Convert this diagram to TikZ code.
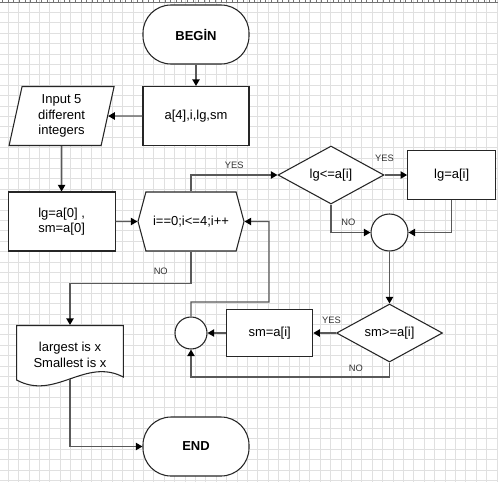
\documentclass[tikz,border=0pt]{standalone}
\usepackage{fontspec}
\setmainfont{Liberation Sans}
\usetikzlibrary{shapes.geometric, shapes.symbols, arrows.meta, calc}

\tikzset{
  gridline/.style={draw=black!12, line width=0.75pt},
  ruler/.style={draw=black!55, line width=0.75pt},
  box/.style={draw=black!85, line width=0.8pt, fill=white, rectangle, inner sep=2pt,
    align=center, font=\fontsize{9.75pt}{11.8pt}\selectfont},
  term/.style={box, rounded corners=21pt, minimum width=79.5pt, minimum height=44.25pt,
    font=\bfseries\fontsize{9.75pt}{11.8pt}\selectfont},
  io/.style={box, trapezium, trapezium left angle=75, trapezium right angle=105,
    trapezium stretches body, minimum width=78.75pt, minimum height=44.25pt},
  hex/.style={box, signal, signal to=east and west, signal pointer angle=150,
    minimum width=79.5pt, minimum height=44.25pt},
  decision/.style={box, diamond, aspect=1.8, inner sep=0pt,
    minimum width=79.5pt, minimum height=43.5pt},
  joint/.style={draw=black!85, line width=0.8pt, fill=white, circle, inner sep=0pt},
  conn/.style={draw=black!65, line width=1.1pt,
    -{Triangle[length=5pt,width=5.5pt,color=black]}},
  lbl/.style={inner sep=0pt, text=black!80, font=\fontsize{7pt}{8pt}\selectfont}
}

\begin{document}
\begin{tikzpicture}[x=0.75pt, y=-0.75pt]
  \useasboundingbox (0,0) rectangle (498,482);
  \fill[white] (0,0) rectangle (498,482);
  % background grid
  \foreach \k in {0,...,47}
    \draw[gridline] ({8.3+10.4*\k},0) -- ({8.3+10.4*\k},482);
  \foreach \k in {0,...,45}
    \draw[gridline] (0,{12.5+10.4*\k}) -- (498,{12.5+10.4*\k});
  % ruler at the top
  \draw[ruler] (0,2.2) -- (498,2.2);
  \foreach \k in {0,...,88}
    \draw[ruler] ({2.7+5.6*\k},0) -- ({2.7+5.6*\k},2.2);

  % output document shape
  \coordinate (docc) at (70,355);
  \draw[draw=black!85, line width=0.8pt, fill=white]
    ($(docc)+(-53.3,-29.5)$) -- ($(docc)+(53.3,-29.5)$) -- ($(docc)+(53.3,22)$)
    .. controls ($(docc)+(15,2)$) and ($(docc)+(-15,46)$) .. ($(docc)+(-53.3,25)$) -- cycle;
  \coordinate (docend) at ($(docc)+(0,23.9)$);

  % nodes
  \node[term] (begin) at (196,34.5) {BEGİN};
  \node[box, minimum width=79.5pt, minimum height=44.25pt] (vars) at (196,116) {a[4],i,lg,sm};
  \node[io] (input) at (61.6,116) {Input 5\\different\\integers};
  \node[box, minimum width=80.25pt, minimum height=44.25pt] (init) at (61.6,221.5) {lg=a[0] ,\\sm=a[0]};
  \node[hex] (loop) at (191,221.5) {i==0;i<=4;i++};
  \node[decision] (cmplg) at (331,175) {lg<=a[i]};
  \node[box, minimum width=66pt, minimum height=36.75pt] (setlg) at (451.7,175) {lg=a[i]};
  \node[joint, minimum size=27.75pt] (join1) at (389.5,232.5) {};
  \node[decision] (cmpsm) at (389.5,333) {sm>=a[i]};
  \node[box, minimum width=64.5pt, minimum height=35.25pt] (setsm) at (269.7,333) {sm=a[i]};
  \node[joint, minimum size=24pt] (join2) at (191,333) {};
  \node[box, draw=none, fill=none, minimum width=80.25pt, minimum height=44.25pt] (out) at (docc) {largest is x\\Smallest is x};
  \node[term] (end) at (196,446.5) {END};

  \coordinate (backlow) at (269,302);
  \coordinate (back) at (269,221.5);

  % connectors
  \draw[conn] (begin) -- (vars);
  \draw[conn] (vars) -- (input);
  \draw[conn] (input) -- (init);
  \draw[conn] (init) -- (loop);
  \draw[conn] (loop.north) |- node[lbl, pos=0.75, above=4.25pt] (yes1) {YES} (cmplg.west);
  \draw[conn] (cmplg) -- node[lbl, pos=0, above=9.25pt] (yes2) {YES} (setlg);
  \draw[conn] (cmplg.south) |- node[lbl, pos=0.72, above=4.5pt] (no1) {NO} (join1.west);
  \draw[conn] (setlg.south) |- (join1.east);
  \draw[conn] (join1) -- (cmpsm);
  \draw[conn] (cmpsm) -- node[lbl, pos=0.2, above=6.5pt] (yes3) {YES} (setsm);
  \draw[conn] (setsm) -- (join2);
  \draw[conn] (cmpsm.south) -- ++(0,14.4) coordinate (nobend)
    -- node[lbl, pos=0.17, above=3.3pt] (no2) {NO} (nobend -| join2) -- (join2.south);
  \draw[conn] (join2.north) |- (backlow) -- (back) -- (loop);
  \draw[conn] (loop.south) -- ++(0,32)
    -| node[lbl, pos=0.125, above=6pt] (no3) {NO} (out.north);
  \draw[conn] (docend) |- (end.west);
\end{tikzpicture}
\end{document}
